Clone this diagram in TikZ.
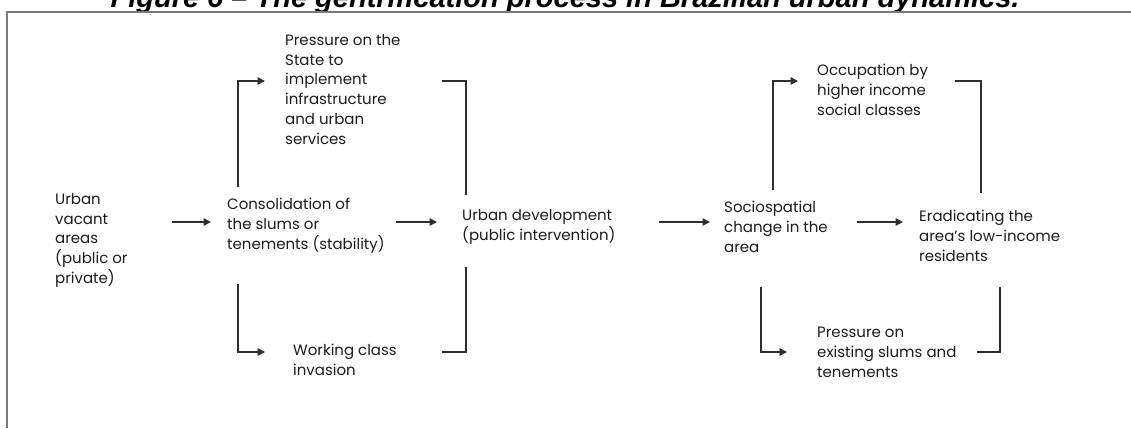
\documentclass[tikz,border=0pt]{standalone}
\usepackage{fontspec}
\setmainfont{Poppins}
\newfontfamily\titlefont{Liberation Sans}
\usetikzlibrary{arrows.meta}
\definecolor{cL}{HTML}{2E2E2E}
\definecolor{cF}{HTML}{7A7A7A}
\definecolor{cT}{HTML}{1C1C1C}

\begin{document}
\begin{tikzpicture}[x=1pt,y=-1pt,
  lbl/.style={anchor=north west,align=left,inner sep=0pt,text=cT,font=\fontsize{15}{19.8}\selectfont},
  arr/.style={draw=cL,line width=1.6pt,-{Triangle[length=7.5pt,width=7.5pt]}},
  bar/.style={draw=cL,line width=1.6pt}]
\useasboundingbox (0,0) rectangle (1131,428);
% --- frame and the cut title ---
\node[anchor=base,inner sep=0pt,font=\titlefont\fontsize{29}{30}\selectfont\bfseries\itshape] (title) at (565,8) {Figure 6 – The gentrification process in Brazilian urban dynamics.};
\draw[cF,line width=2.4pt] (1131,12) -- (7,12) -- (7,428);
% --- left half ---
\node[lbl] (vacant) at (55,193)  {Urban\\vacant\\areas\\(public or\\private)};
\node[lbl] (consol) at (227,198) {Consolidation of\\the slums or\\tenements (stability)};
\node[lbl] (press)  at (285,34)  {Pressure on the\\State to\\implement\\infrastructure\\and urban\\services};
\node[lbl] (invade) at (293,344) {Working class\\invasion};
\node[lbl] (devel)  at (462,209) {Urban development\\(public intervention)};
% --- right half ---
\node[lbl] (socio)  at (724,201) {Sociospatial\\change in the\\area};
\node[lbl] (occupy) at (817,64)  {Occupation by\\higher income\\social classes};
\node[lbl] (erad)   at (919,210) {Eradicating the\\area's low-income\\residents};
\node[lbl] (exist)  at (817,327) {Pressure on\\existing slums and\\tenements};
% --- connector ends ---
\coordinate (vacant-out) at (172,222);  \coordinate (consol-in) at (211,222);
\coordinate (consol-out) at (396,222);  \coordinate (devel-in) at (437,222);
\coordinate (devel-out) at (659,222);   \coordinate (socio-in) at (710,222);
\coordinate (socio-out) at (857,222);   \coordinate (erad-in) at (903,222);
\coordinate (consol-up) at (238,187);   \coordinate (press-in) at (265,81);
\coordinate (press-out) at (442,81);    \coordinate (devel-top) at (466,195);
\coordinate (consol-dn) at (238,284);   \coordinate (invade-in) at (265,352);
\coordinate (invade-out) at (442,352);  \coordinate (devel-bot) at (466,267);
\coordinate (socio-up) at (773,190);    \coordinate (occupy-in) at (798,81);
\coordinate (occupy-out) at (955,81);   \coordinate (erad-top) at (981,193);
\coordinate (socio-dn) at (761,287);    \coordinate (exist-in) at (787,352);
\coordinate (exist-out) at (977,352);   \coordinate (erad-bot) at (1000,287);
% --- main chain ---
\draw[arr] (vacant-out) -- (consol-in);
\draw[arr] (consol-out) -- (devel-in);
\draw[arr] (devel-out) -- (socio-in);
\draw[arr] (socio-out) -- (erad-in);
% --- side branches ---
\draw[arr] (consol-up) |- (press-in);
\draw[bar] (press-out) -| (devel-top);
\draw[arr] (consol-dn) |- (invade-in);
\draw[bar] (invade-out) -| (devel-bot);
\draw[arr] (socio-up) |- (occupy-in);
\draw[bar] (occupy-out) -| (erad-top);
\draw[arr] (socio-dn) |- (exist-in);
\draw[bar] (exist-out) -| (erad-bot);
\end{tikzpicture}
\end{document}
